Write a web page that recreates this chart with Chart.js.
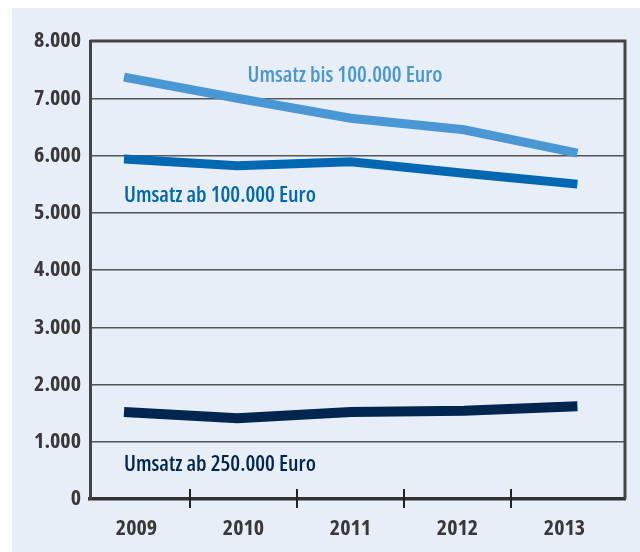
<!DOCTYPE html>
<html>
<head>
<meta charset="utf-8">
<script src="https://cdn.jsdelivr.net/npm/chart.js@4.4.1/dist/chart.umd.min.js"></script>
<style>
  body { margin: 0; background: #fff; }
  #box { position: absolute; left: 12px; top: 8px; width: 628px; height: 544px; background: #e7eef8; }
</style>
</head>
<body>
<div id="box"><canvas id="chart" width="628" height="544"></canvas></div>
<script>
// Jahre und Werte (Anzahl)
const years = ["2009", "2010", "2011", "2012", "2013"];
const bis100 = [7370, 7000, 6650, 6450, 6040];
const ab100 = [5940, 5820, 5890, 5690, 5500];
const ab250 = [1520, 1410, 1520, 1540, 1620];

const seriesNames = ["Umsatz bis 100.000 Euro", "Umsatz ab 100.000 Euro", "Umsatz ab 250.000 Euro"];
const seriesColors = ["#4a97d5", "#0067b3", "#00264f"];

// condensed schrift: "condensed" steckt mit im weight-string
const FONT = '"Open Sans", "Roboto", sans-serif';
const WEIGHT = "bold condensed";
const LABEL_SHIFT = -7;

function fmt(v) {
  return String(v).replace(/\B(?=(\d{3})+(?!\d))/g, ".");
}

// rahmen oben/rechts + kleine striche an der x-achse
const framePlugin = {
  id: "frame",
  afterDraw(chart) {
    const { ctx, chartArea } = chart;
    const x = chart.scales.x;
    ctx.save();
    ctx.strokeStyle = "#444";
    ctx.lineWidth = 3;
    ctx.beginPath();
    ctx.moveTo(chartArea.left, chartArea.top);
    ctx.lineTo(chartArea.right, chartArea.top);
    ctx.lineTo(chartArea.right, chartArea.bottom);
    ctx.stroke();

    ctx.strokeStyle = "#222";
    ctx.lineWidth = 2;
    for (let i = 1; i < years.length; i++) {
      const px = (x.getPixelForTick(i - 1) + x.getPixelForTick(i)) / 2 + LABEL_SHIFT;
      ctx.beginPath();
      ctx.moveTo(px, chartArea.bottom - 10);
      ctx.lineTo(px, chartArea.bottom + 9);
      ctx.stroke();
    }
    ctx.restore();
  }
};

// beschriftung direkt an den linien
const seriesLabels = [
  { text: seriesNames[0], color: seriesColors[0], x: 2010.09, y: 7400 },
  { text: seriesNames[1], color: seriesColors[1], x: 2009.0, y: 5290 },
  { text: seriesNames[2], color: seriesColors[2], x: 2009.0, y: 590 }
];

const labelPlugin = {
  id: "lineLabels",
  afterDatasetsDraw(chart) {
    const { ctx } = chart;
    const xs = chart.scales.xd;
    const ys = chart.scales.y;
    ctx.save();
    ctx.font = "600 condensed 22px " + FONT;
    ctx.textAlign = "left";
    ctx.textBaseline = "middle";
    seriesLabels.forEach((l) => {
      ctx.fillStyle = l.color;
      ctx.fillText(l.text, xs.getPixelForValue(l.x), ys.getPixelForValue(l.y));
    });
    ctx.restore();
  }
};

const lineOpts = {
  xAxisID: "xd",
  borderWidth: 9,
  pointRadius: 0,
  tension: 0,
  fill: false,
  borderCapStyle: "butt",
  borderJoinStyle: "miter"
};

new Chart(document.getElementById("chart"), {
  type: "line",
  data: {
    labels: years,
    datasets: [
      { ...lineOpts, label: seriesNames[0], data: bis100, borderColor: seriesColors[0] },
      { ...lineOpts, label: seriesNames[1], data: ab100, borderColor: seriesColors[1] },
      { ...lineOpts, label: seriesNames[2], data: ab250, borderColor: seriesColors[2], borderWidth: 10 }
    ]
  },
  options: {
    responsive: false,
    animation: false,
    layout: { padding: { left: 0, top: 33, right: 15, bottom: 0 } },
    plugins: { legend: { display: false }, tooltip: { enabled: false } },
    scales: {
      x: {
        type: "category",
        offset: true,
        grid: { display: false },
        border: { color: "#333", width: 3.5 },
        ticks: {
          color: "#3a3836",
          font: { family: FONT, size: 22, weight: WEIGHT },
          padding: 9,
          labelOffset: LABEL_SHIFT,
          maxRotation: 0
        },
        afterFit(scale) { scale.height = 53; }
      },
      xd: {
        type: "linear",
        display: false,
        min: 2008.7,
        max: 2013.42
      },
      y: {
        min: 0,
        max: 8000,
        ticks: {
          stepSize: 1000,
          color: "#3a3836",
          font: { family: FONT, size: 22, weight: WEIGHT },
          padding: 9,
          callback: (v) => fmt(v)
        },
        grid: { color: "#555", lineWidth: 1.5, drawTicks: false },
        border: { color: "#444", width: 3 },
        afterFit(scale) { scale.width = 78; }
      }
    }
  },
  plugins: [framePlugin, labelPlugin]
});
</script>
</body>
</html>
